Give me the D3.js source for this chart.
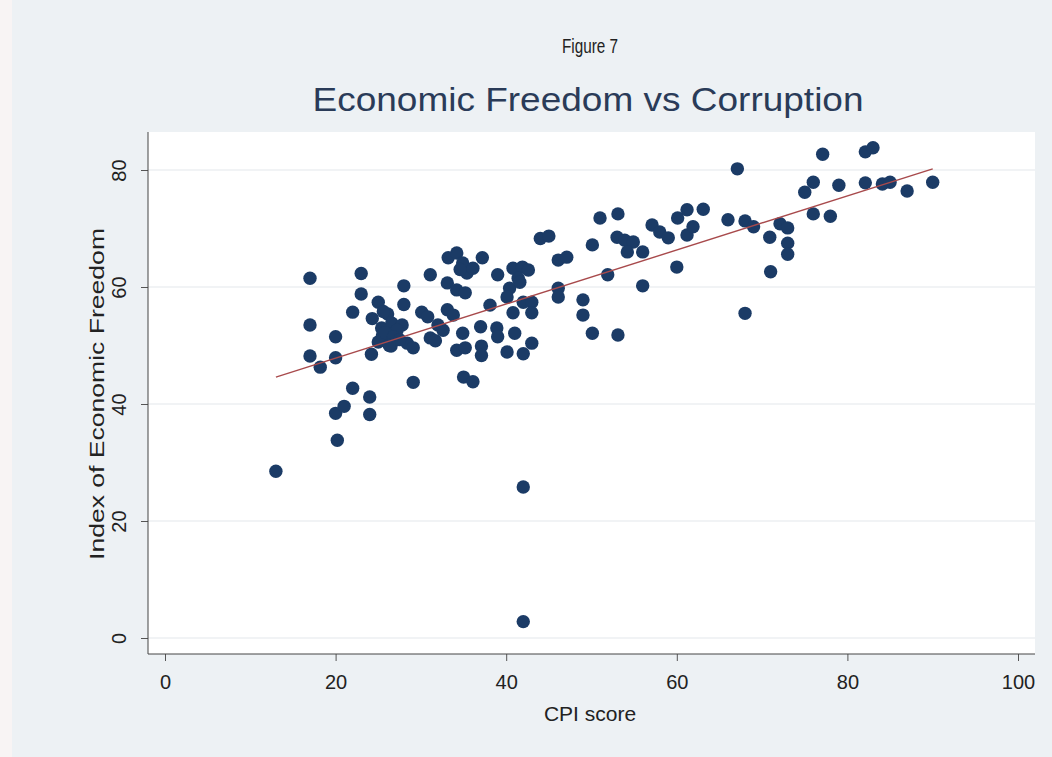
<!DOCTYPE html>
<html>
<head>
<meta charset="utf-8">
<script src="https://cdn.jsdelivr.net/npm/d3@7"></script>
<style>
  html, body { margin: 0; padding: 0; background: #edf1f4; }
  svg { display: block; }
  text { font-family: "Liberation Sans", Arial, Helvetica, sans-serif; }
</style>
</head>
<body>
<svg id="chart" width="1052" height="757"></svg>
<script>
// ---- data ----
const cpiScore = [
  13, 17, 17, 17, 18.2, 20, 20, 20, 21, 20.2, 22, 22, 23, 23, 24, 24,
  24.3, 25, 26.1, 25.4, 26.6, 27, 25, 26.1, 24.2, 25.5, 26.5, 27.8, 27.2, 28.4, 29.1,
  25.8, 26.8, 27.5, 25.6, 26.3,
  28, 28, 29.1,
  30.1, 30.8, 31.1, 31.1, 31.7, 32, 32.6,
  33.1, 33.1, 33.8, 33.2, 34.2, 34.9, 35.4, 36.1, 37.2, 34.6,
  34.2, 35.2, 34.9, 34.2, 35.2, 35.0, 36.1,
  37.0, 37.1, 37.1, 38.1, 38.9, 39,
  39, 40.8, 41.9, 42.6, 41.4, 40.4, 40.1, 42, 43, 40.8, 43, 41.6,
  41, 43, 40.1, 42, 42, 42,
  44, 45, 46.1, 47.1, 46.1, 46.1,
  49, 49, 50.1, 50.1, 51, 51.9, 53.1, 53.1,
  53, 53.9, 54.9, 54.2, 56, 56,
  57.1, 58, 59, 60.1, 61.2, 61.2, 60, 61.9, 63.1,
  66, 67.1, 68, 69, 68, 70.9, 71, 72.1, 73, 73, 73,
  75, 76, 76, 77.1, 78, 79, 82.1, 83, 82.1, 84.1, 85, 87, 90
];
const freedomIndex = [
  28.5, 61.5, 53.5, 48.2, 46.3, 51.5, 47.9, 38.4, 39.6, 33.8, 55.7, 42.7, 62.3, 58.8, 41.2, 38.2,
  54.6, 57.4, 55.4, 53.0, 53.8, 52.3, 50.6, 50.9, 48.5, 51.8, 49.9, 53.5, 52.6, 50.4, 49.6,
  52.2, 51.5, 51.0, 55.8, 50.0,
  60.2, 57.0, 43.7,
  55.7, 54.9, 62.1, 51.3, 50.8, 53.5, 52.6,
  60.7, 56.1, 55.2, 65.0, 65.8, 64.1, 62.4, 63.2, 65.0, 63.0,
  59.5, 59.0, 52.1, 49.2, 49.6, 44.6, 43.8,
  53.2, 49.9, 48.3, 56.9, 53.0, 51.5,
  62.1, 63.2, 63.4, 62.9, 61.5, 59.8, 58.3, 57.4, 57.4, 55.6, 55.6, 60.8,
  52.1, 50.4, 48.9, 48.6, 25.8, 2.8,
  68.3, 68.7, 64.6, 65.1, 59.8, 58.3,
  57.8, 55.2, 52.1, 67.2, 71.8, 62.1, 72.5, 51.8,
  68.5, 68.0, 67.7, 66.0, 66.0, 60.2,
  70.6, 69.4, 68.4, 71.8, 73.2, 68.9, 63.4, 70.3, 73.3,
  71.5, 80.2, 71.3, 70.3, 55.5, 68.5, 62.6, 70.8, 70.1, 67.5, 65.6,
  76.2, 77.9, 72.5, 82.7, 72.1, 77.4, 83.1, 83.8, 77.8, 77.6, 77.9, 76.4, 77.9
];
// fitted line end points
const fitX = [13, 90];
const fitY = [44.6, 80.2];
const xTicks = [0, 20, 40, 60, 80, 100];
const yTicks = [0, 20, 40, 60, 80];

const svg = d3.select("#chart");

// page background pieces
svg.append("rect").attr("x", 0).attr("y", 0).attr("width", 1052).attr("height", 757).attr("fill", "#edf1f4");
svg.append("rect").attr("x", 0).attr("y", 0).attr("width", 12).attr("height", 757).attr("fill", "#f8f4f4");

const plot = { left: 148, right: 1035, top: 132, bottom: 654 };
const x = d3.scaleLinear().domain([0, 100]).range([165, 1018]);
const y = d3.scaleLinear().domain([0, 80]).range([638, 170]);

// plot region
svg.append("rect")
  .attr("x", plot.left).attr("y", plot.top)
  .attr("width", plot.right - plot.left).attr("height", plot.bottom - plot.top)
  .attr("fill", "#ffffff");

// grid lines
svg.append("g").selectAll("line").data(yTicks).join("line")
  .attr("x1", plot.left).attr("x2", plot.right)
  .attr("y1", d => y(d)).attr("y2", d => y(d))
  .attr("stroke", "#eceff2").attr("stroke-width", 1.5);

// points
const pts = cpiScore.map((c, i) => ({ c, f: freedomIndex[i] }));
svg.append("g").selectAll("circle").data(pts).join("circle")
  .attr("cx", d => x(d.c)).attr("cy", d => y(d.f))
  .attr("r", 6.7)
  .attr("fill", "#1b3b66");

// fitted line
svg.append("line")
  .attr("x1", x(fitX[0])).attr("y1", y(fitY[0]))
  .attr("x2", x(fitX[1])).attr("y2", y(fitY[1]))
  .attr("stroke", "#a84a4c").attr("stroke-width", 1.4);

// axes
const xAxis = d3.axisBottom(x).tickValues(xTicks).tickSize(7).tickPadding(14);
const gx = svg.append("g").attr("transform", `translate(0,${plot.bottom})`).call(xAxis);
gx.select(".domain").remove();
gx.selectAll(".tick line").attr("stroke", "#555");
gx.selectAll(".tick text").attr("font-size", 20).attr("fill", "#222")
  .style("font-family", "'Liberation Sans', Arial, sans-serif");
svg.append("line").attr("x1", plot.left).attr("x2", plot.right)
  .attr("y1", plot.bottom).attr("y2", plot.bottom).attr("stroke", "#444").attr("stroke-width", 1);

const yAxis = d3.axisLeft(y).tickValues(yTicks).tickSize(7).tickPadding(0);
const gy = svg.append("g").attr("transform", `translate(${plot.left},0)`).call(yAxis);
gy.select(".domain").remove();
gy.selectAll(".tick line").attr("stroke", "#555");
gy.selectAll(".tick text").remove();
gy.selectAll(".tick").append("text")
  .attr("transform", "translate(-22,0) rotate(-90)")
  .attr("text-anchor", "middle")
  .attr("font-size", 20).attr("fill", "#222")
  .text(d => d);
svg.append("line").attr("x1", plot.left).attr("x2", plot.left)
  .attr("y1", plot.top).attr("y2", plot.bottom).attr("stroke", "#444").attr("stroke-width", 1);

// axis titles
svg.append("text").attr("x", 590).attr("y", 721).attr("text-anchor", "middle")
  .attr("font-size", 21).attr("fill", "#222").text("CPI score");
svg.append("text").attr("transform", "translate(104,394) rotate(-90)")
  .attr("text-anchor", "middle").attr("font-size", 21).attr("fill", "#222")
  .attr("textLength", 332).attr("lengthAdjust", "spacingAndGlyphs")
  .text("Index of Economic Freedom");

// titles
svg.append("text").attr("x", 590).attr("y", 53).attr("text-anchor", "middle")
  .attr("font-size", 20).attr("fill", "#222")
  .attr("textLength", 56).attr("lengthAdjust", "spacingAndGlyphs")
  .text("Figure 7");
svg.append("text").attr("x", 588).attr("y", 111).attr("text-anchor", "middle")
  .attr("font-size", 34).attr("fill", "#2a3b58")
  .attr("textLength", 551).attr("lengthAdjust", "spacingAndGlyphs")
  .text("Economic Freedom vs Corruption");
</script>
</body>
</html>
